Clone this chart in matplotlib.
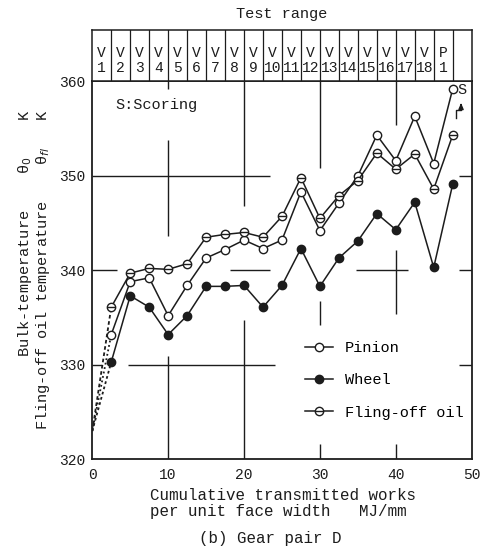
#! /usr/bin/env python3

import numpy as np
from matplotlib import pyplot as plt

plt.rcParams["font.family"] = ["Liberation Mono", "DejaVu Sans Mono"]
plt.rcParams["mathtext.fontset"] = "dejavusans"

# cumulative transmitted work at the end of each test stage, MJ/mm
work = [2.5, 5.0, 7.5, 10.0, 12.5, 15.0, 17.5, 20.0, 22.5, 25.0,
        27.5, 30.0, 32.5, 35.0, 37.5, 40.0, 42.5, 45.0, 47.5]

# temperatures, K
pinion = [333.2, 338.8, 339.2, 335.2, 338.4, 341.3, 342.2, 343.2, 342.3, 343.2,
          348.3, 344.2, 347.1, 350.0, 354.3, 351.6, 356.3, 351.3, 359.2]
wheel = [330.3, 337.3, 336.1, 333.2, 335.2, 338.3, 338.3, 338.4, 336.1, 338.4,
         342.3, 338.3, 341.3, 343.1, 346.0, 344.3, 347.2, 340.3, 349.1]
fling = [336.1, 339.7, 340.2, 340.1, 340.7, 343.5, 343.8, 344.0, 343.5, 345.7,
         349.8, 345.5, 347.9, 349.5, 352.4, 350.7, 352.3, 348.6, 354.3]

# starting point (estimated) joined by dotted lines
work0 = 0.0
temp0 = 323.0

test_labels = ["V\n1", "V\n2", "V\n3", "V\n4", "V\n5", "V\n6", "V\n7", "V\n8",
               "V\n9", "V\n10", "V\n11", "V\n12", "V\n13", "V\n14", "V\n15",
               "V\n16", "V\n17", "V\n18", "P\n1", ""]

xticks = [0, 10, 20, 30, 40, 50]
yticks = [320, 330, 340, 350, 360]

ink = "#1c1c1c"

fig = plt.figure(figsize=(4.87, 5.47), dpi=100)
ax = fig.add_axes([0.1895, 0.1603, 0.779, 0.6911])
hax = fig.add_axes([0.1895, 0.8514, 0.779, 0.0938])

kw_mark = {"ms": 6, "mew": 1.0, "mec": ink, "c": ink, "lw": 1.1}

# dotted run-in from the start
for series, ls in zip([pinion, wheel, fling], [(0, (1, 1.5)), (0, (1.5, 1.5)), (0, (2, 1.5))]):
    ax.plot([work0, work[0]], [temp0, series[0]], c=ink, lw=1.3, ls=ls)

ax.plot(work, pinion, marker="o", mfc="white", label="Pinion", **kw_mark)
ax.plot(work, wheel, marker="o", mfc=ink, label="Wheel", **kw_mark)
ax.plot(work, fling, marker="o", mfc="white", **kw_mark)
ax.plot(work, fling, marker="_", ms=6, mew=1.0, mec=ink, lw=0)

# legend handles: fling-off oil gets a barred circle
h_p, h_w = ax.get_legend_handles_labels()[0]
h_f = (plt.Line2D([], [], marker="o", mfc="white", **kw_mark),
       plt.Line2D([], [], marker="_", ms=6, mew=1.0, mec=ink, lw=0))
ax.legend([h_p, h_w, h_f], ["Pinion", "Wheel", "Fling-off oil"],
          loc="lower left", bbox_to_anchor=(0.56, 0.105), frameon=False,
          borderpad=0, borderaxespad=0, handlelength=1.85, handletextpad=0.8,
          labelspacing=1.2, fontsize=11)

# cross-hair style grid segments and inner ticks
kw_grid = {"c": ink, "lw": 1.0, "solid_capstyle": "butt"}
segs_h = [(350, 0, 23.4), (340, 0, 3.2), (340, 18.1, 23.4), (340, 34.8, 41.6),
          (330, 0, 1.3), (330, 4.7, 24.1),
          (330, 48.3, 50), (340, 48.3, 50), (350, 48.3, 50)]
segs_v = [(10, 343.6, 353.8), (10, 359.2, 360), (20, 346.8, 360), (30, 350.8, 360),
          (40, 355.4, 360), (40, 335.4, 342.2), (30, 334.2, 336.7),
          (10, 320, 330.9), (20, 320, 334.7), (30, 320, 321.6), (40, 320, 321.6)]
for y, x1, x2 in segs_h:
    ax.plot([x1, x2], [y, y], **kw_grid)
for x, y1, y2 in segs_v:
    ax.plot([x, x], [y1, y2], **kw_grid)

ax.text(3.0, 357.5, "S:Scoring", fontsize=11, va="center", color=ink)

# scoring mark
ax.text(48.7, 359.1, "S", fontsize=11, va="center", ha="center", color=ink)
ax.plot([48.0, 48.0, 48.6, 48.6], [356.1, 357.0, 357.0, 357.3], c=ink, lw=1.0)
ax.annotate("", xy=(48.6, 358.0), xytext=(48.6, 357.2),
            arrowprops=dict(arrowstyle="-|>,head_width=0.15,head_length=0.35",
                            color=ink, lw=1.0))

ax.set_xlim(0, 50)
ax.set_ylim(320, 360)
ax.set_xticks(xticks)
ax.set_yticks(yticks)
ax.tick_params(length=0, labelsize=10.5, colors=ink)
ax.tick_params(axis="x", pad=6)
ax.tick_params(axis="y", pad=5)
for s in ax.spines.values():
    s.set_linewidth(1.3)
    s.set_color(ink)

# test range header
hax.set_xlim(0, 50)
hax.set_ylim(0, 1)
hax.set_xticks([])
hax.set_yticks([])
for s in hax.spines.values():
    s.set_linewidth(1.1)
    s.set_color(ink)
for xb in work:
    hax.axvline(xb, c=ink, lw=0.9)
for xb, lab in zip([0.0] + work, test_labels):
    if not lab:
        continue
    top, num = lab.split("\n")
    hax.text(xb + 1.25, 0.55, top, ha="center", va="center", fontsize=10.5, color=ink)
    hax.text(xb + 1.25, 0.26, num, ha="center", va="center", fontsize=10.5, color=ink)
fig.text(0.579, 0.974, "Test range", ha="center", va="center", fontsize=11, color=ink)

# axis labels
fig.text(0.308, 0.0795, "Cumulative transmitted works\nper unit face width   MJ/mm",
         ha="left", va="center", fontsize=11.4, linespacing=1.1, color=ink)
fig.text(0.555, 0.016, "(b) Gear pair D", ha="center", va="center",
         fontsize=11.4, color=ink)

fig.text(0.051, 0.80, "Bulk-temperature    θ$_0$    K", rotation=90,
         ha="center", va="top", fontsize=11, color=ink)
fig.text(0.089, 0.80, "Fling-off oil temperature    θ$_{fl}$   K", rotation=90,
         ha="center", va="top", fontsize=11, color=ink)

fig.savefig("out.png", dpi=100)
